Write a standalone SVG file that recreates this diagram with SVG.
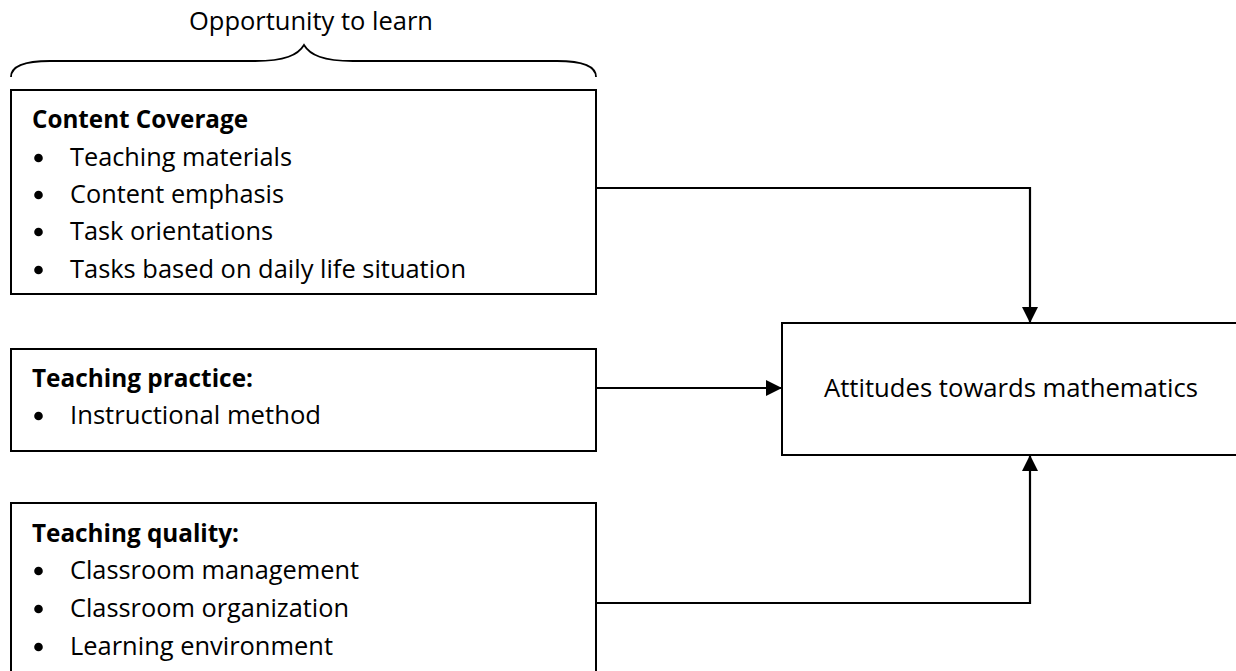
<svg xmlns="http://www.w3.org/2000/svg" width="1236" height="671" viewBox="0 0 1236 671">
<defs>
<style>
.box{fill:#fff;stroke:#000;stroke-width:2}
.t{font-family:"Open Sans","Liberation Sans",sans-serif;font-size:25px;fill:#000}
.h{font-weight:bold}
.conn{fill:none;stroke:#000;stroke-width:2.2}
.bul{fill:#000}
</style>
<marker id="ah" viewBox="0 0 16 16" refX="16" refY="8" markerWidth="16" markerHeight="16" markerUnits="userSpaceOnUse" orient="auto">
<path d="M0,0 L16,8 L0,16 Z" fill="#000"/>
</marker>
</defs>
<rect width="1236" height="671" fill="#fff"/>

<g id="brace">
<path d="M11,77 C11,66 25,61 50,61 L255,61 C285,61 298,55 304,45 C310,55 323,61 353,61 L557,61 C582,61 596,66 596,77" fill="none" stroke="#000" stroke-width="1.8"/>
<text class="t" x="189" y="30" textLength="244" lengthAdjust="spacingAndGlyphs">Opportunity to learn</text>
</g>

<g id="connectors">
<path class="conn" d="M596,188 H1030 V323" marker-end="url(#ah)"/>
<path class="conn" d="M596,388 H782" marker-end="url(#ah)"/>
<path class="conn" d="M596,603 H1030 V455" marker-end="url(#ah)"/>
</g>

<g id="content-coverage">
<rect class="box" x="11" y="90" width="585" height="204"/>
<text class="t h" x="32" y="128" textLength="216" lengthAdjust="spacingAndGlyphs">Content Coverage</text>
<circle class="bul" cx="38.5" cy="158" r="4.3"/>
<text class="t" x="70" y="166" textLength="222" lengthAdjust="spacingAndGlyphs">Teaching materials</text>
<circle class="bul" cx="38.5" cy="195" r="4.3"/>
<text class="t" x="70" y="203" textLength="214" lengthAdjust="spacingAndGlyphs">Content emphasis</text>
<circle class="bul" cx="38.5" cy="232" r="4.3"/>
<text class="t" x="70" y="240" textLength="203" lengthAdjust="spacingAndGlyphs">Task orientations</text>
<circle class="bul" cx="38.5" cy="270" r="4.3"/>
<text class="t" x="70" y="278" textLength="396" lengthAdjust="spacingAndGlyphs">Tasks based on daily life situation</text>
</g>

<g id="teaching-practice">
<rect class="box" x="11" y="349" width="585" height="102"/>
<text class="t h" x="32" y="387" textLength="221" lengthAdjust="spacingAndGlyphs">Teaching practice:</text>
<circle class="bul" cx="38.5" cy="416" r="4.3"/>
<text class="t" x="70" y="424" textLength="251" lengthAdjust="spacingAndGlyphs">Instructional method</text>
</g>

<g id="teaching-quality">
<rect class="box" x="11" y="503" width="585" height="180"/>
<text class="t h" x="32" y="542" textLength="207" lengthAdjust="spacingAndGlyphs">Teaching quality:</text>
<circle class="bul" cx="38.5" cy="571" r="4.3"/>
<text class="t" x="70" y="579" textLength="289" lengthAdjust="spacingAndGlyphs">Classroom management</text>
<circle class="bul" cx="38.5" cy="609" r="4.3"/>
<text class="t" x="70" y="617" textLength="279" lengthAdjust="spacingAndGlyphs">Classroom organization</text>
<circle class="bul" cx="38.5" cy="647" r="4.3"/>
<text class="t" x="70" y="655" textLength="263" lengthAdjust="spacingAndGlyphs">Learning environment</text>
</g>

<g id="attitudes">
<rect class="box" x="782" y="323" width="470" height="132"/>
<text class="t" x="824" y="397" textLength="374" lengthAdjust="spacingAndGlyphs">Attitudes towards mathematics</text>
</g>
</svg>
